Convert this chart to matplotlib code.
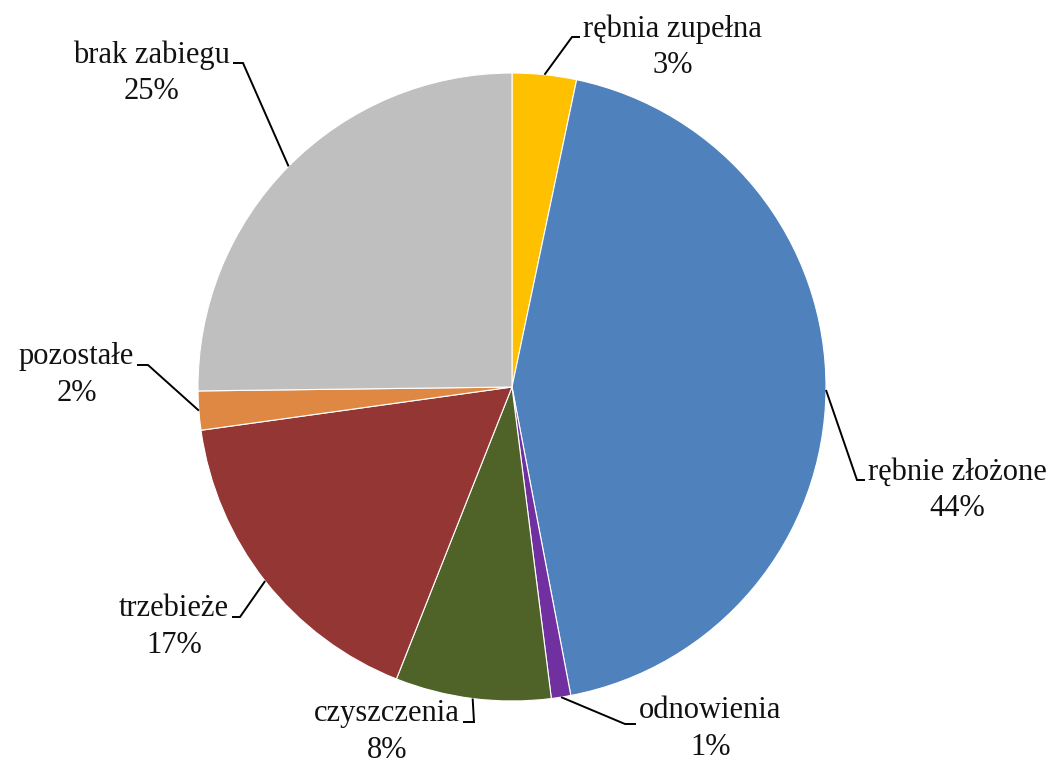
import matplotlib
matplotlib.use('Agg')
import matplotlib.pyplot as plt
import numpy as np

labels = ['rębnia zupełna', 'rębnie złożone', 'odnowienia', 'czyszczenia',
          'trzebieże', 'pozostałe', 'brak zabiegu']
values = [3.3, 43.7, 1.0, 8.0, 16.8, 2.0, 25.2]
pct_labels = ['3%', '44%', '1%', '8%', '17%', '2%', '25%']
colors = ['#FFC000', '#4F81BD', '#7030A0', '#4F6228', '#943634', '#DE8844', '#BFBFBF']

W, H = 1060, 767
# layout: label elbow points (pixel coords) and horizontal stub end, side
elbows = [(572, 37), (857, 480), (625, 724), (474, 722), (240, 617), (148, 365), (243, 63)]
stub_end = [(580, 37), (865, 480), (636, 724), (463, 722), (232, 617), (137, 365), (233, 63)]
sides = ['left', 'left', 'left', 'right', 'right', 'right', 'right']
text_dy = [10, 10, 5, 10, 10, 10, 10]

cx, cy, R = 512, 387, 314

fig = plt.figure(figsize=(W / 100, H / 100), dpi=100)
ax = fig.add_axes([0, 0, 1, 1])
wedges, _ = ax.pie(values, colors=colors, startangle=90, counterclock=False,
                   center=(cx, H - cy), radius=R,
                   wedgeprops=dict(edgecolor='white', linewidth=0.8))
ax.set_xlim(0, W)
ax.set_ylim(0, H)
ax.set_aspect('auto')
ax.axis('off')

font = dict(family=['Liberation Serif', 'DejaVu Serif'], size=22, color='#111111')
for i, w in enumerate(wedges):
    mid = np.deg2rad((w.theta1 + w.theta2) / 2)
    sx = cx + R * np.cos(mid)
    sy = (H - cy) + R * np.sin(mid)
    ex, ey = elbows[i]
    tx, ty = stub_end[i]
    ax.plot([sx, ex, tx], [sy, H - ey, H - ty], color='black', lw=1.4,
            solid_capstyle='butt', solid_joinstyle='miter')
    gap = 3
    x = tx + gap if sides[i] == 'left' else tx - gap
    ax.text(x, H - (ty + text_dy[i]), labels[i] + '\n' + pct_labels[i],
            ha=sides[i], va='center', multialignment='center',
            linespacing=1.32, **font)

fig.savefig('out.png', dpi=100)
